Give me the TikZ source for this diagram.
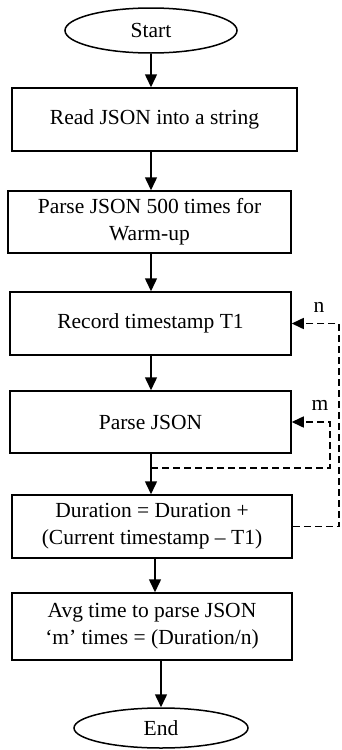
\documentclass[tikz,border=0pt]{standalone}
\usepackage{fontspec}
\setmainfont{Liberation Serif}
\usetikzlibrary{arrows.meta,shapes.geometric}
\begin{document}
\begin{tikzpicture}[x=1pt,y=-1pt,
  every node/.style={font=\fontsize{21.5}{27}\selectfont, inner sep=0pt, line width=1.5pt},
  procbox/.style={draw, rectangle, align=center},
  term/.style={draw, ellipse},
  arr/.style={line width=1.5pt, -{Triangle[length=13pt,width=12pt]}},
  darr/.style={line width=1.5pt, dash pattern=on 7pt off 4pt, -{Triangle[length=12pt,width=11pt]}}]
\useasboundingbox (0,0) rectangle (341,750);
\node[term, minimum width=172pt, minimum height=45pt] (start) at (151,30.5) {Start};
\node[procbox, minimum width=285pt, minimum height=63pt] (read) at (154.5,119.5) {Read JSON into a string};
\node[procbox, minimum width=283pt, minimum height=62pt] (warm) at (149.5,222) {Parse JSON 500 times for\\Warm-up};
\node[procbox, minimum width=281pt, minimum height=63pt] (rec) at (150.5,323.5) {Record timestamp T1};
\node[procbox, minimum width=281pt, minimum height=62pt] (parse) at (150.5,422) {Parse JSON};
\node[procbox, minimum width=280pt, minimum height=63pt] (dur) at (152,526.5) {Duration = Duration +\\(Current timestamp -- T1)};
\node[procbox, minimum width=280pt, minimum height=67pt] (avg) at (152,626.5) {Avg time to parse JSON\\`m' times = (Duration/n)};
\node[term, minimum width=174pt, minimum height=40pt] (end) at (161,728) {End};
\node (nlab) at (319,307) {n};
\node (mlab) at (320,405) {m};
\coordinate (sx) at (151,0);
\coordinate (mj) at (151,468);
\coordinate (mr) at (330,468);
\coordinate (nr) at (339,0);
\draw[arr] (start.south) -- (start.south |- read.north);
\draw[arr] (sx |- read.south) -- (sx |- warm.north);
\draw[arr] (sx |- warm.south) -- (sx |- rec.north);
\draw[arr] (sx |- rec.south) -- (sx |- parse.north);
\draw[arr] (sx |- parse.south) -- (sx |- dur.north);
\draw[arr] (155,0 |- dur.south) -- (155,0 |- avg.north);
\draw[arr] (end.north |- avg.south) -- (end.north);
\draw[darr] (mj) -- (mr) -- (mr |- parse.east) -- (parse.east);
\draw[darr] (dur.east) -- (nr |- dur.east) -- (nr |- rec.east) -- (rec.east);
\end{tikzpicture}
\end{document}
